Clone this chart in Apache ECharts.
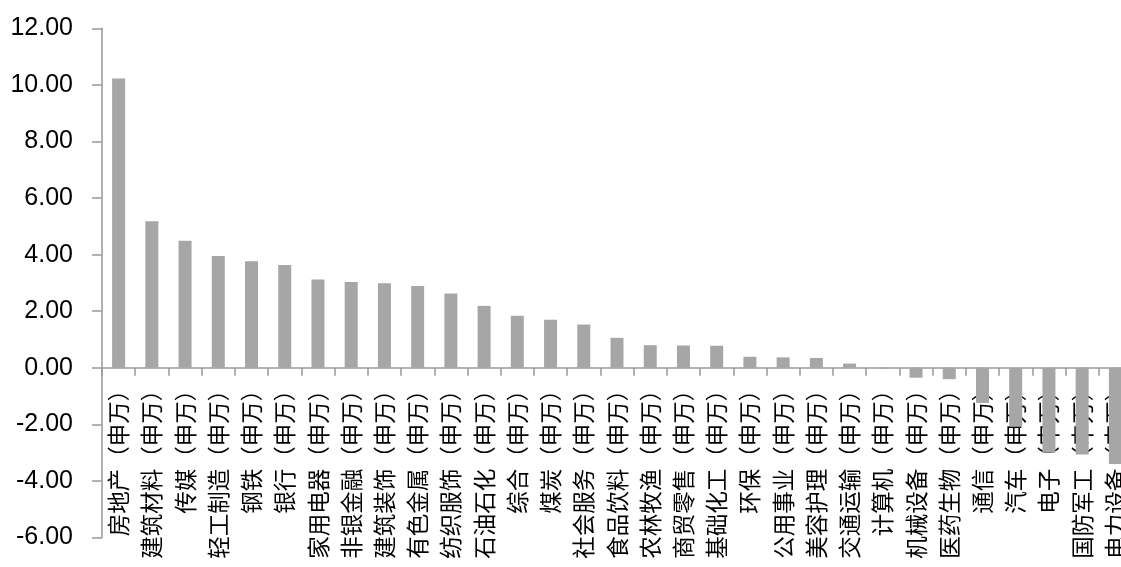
<!DOCTYPE html>
<html>
<head>
<meta charset="utf-8">
<script src="https://cdn.jsdelivr.net/npm/echarts@6/dist/echarts.min.js"></script>
<style>
html,body{margin:0;padding:0;background:#fff;}
#chart{width:1121px;height:567px;}
</style>
</head>
<body>
<div id="chart"></div>
<script>
const categories = ['房地产（申万）','建筑材料（申万）','传媒（申万）','轻工制造（申万）','钢铁（申万）','银行（申万）','家用电器（申万）','非银金融（申万）','建筑装饰（申万）','有色金属（申万）','纺织服饰（申万）','石油石化（申万）','综合（申万）','煤炭（申万）','社会服务（申万）','食品饮料（申万）','农林牧渔（申万）','商贸零售（申万）','基础化工（申万）','环保（申万）','公用事业（申万）','美容护理（申万）','交通运输（申万）','计算机（申万）','机械设备（申万）','医药生物（申万）','通信（申万）','汽车（申万）','电子（申万）','国防军工（申万）','电力设备（申万）'];
const values = [10.23,5.18,4.49,3.95,3.77,3.63,3.12,3.03,2.99,2.89,2.63,2.19,1.84,1.70,1.53,1.06,0.80,0.79,0.78,0.39,0.37,0.35,0.15,-0.02,-0.35,-0.40,-1.24,-2.08,-3.00,-3.06,-3.40];
const yMin = -6, yMax = 12, yStep = 2;

const gridTop = 28.3, gridHeight = 509.3;
const zeroOffset = -gridHeight * (0 - yMin) / (yMax - yMin);

const chart = echarts.init(document.getElementById('chart'), null, {renderer:'canvas'});
chart.setOption({
  animation:false,
  backgroundColor:'#ffffff',
  grid:{left:102, top:gridTop, width:1030, height:gridHeight, containLabel:false, outerBoundsMode:'none'},
  xAxis:{
    type:'category',
    data:categories,
    position:'bottom',
    offset:zeroOffset,
    axisLine:{onZero:false, lineStyle:{color:'#999999', width:1.5}},
    axisTick:{show:true, length:8, lineStyle:{color:'#999999', width:1.5}},
    axisLabel:{interval:0, rotate:90, margin:11, color:'#000', fontSize:22.5, fontFamily:'Noto Sans CJK SC', hideOverlap:false},
    splitLine:{show:false}
  },
  yAxis:{
    type:'value',
    min:yMin, max:yMax, interval:yStep,
    axisLine:{show:true, lineStyle:{color:'#999999', width:1.5}},
    axisTick:{show:true, inside:false, length:10, lineStyle:{color:'#999999', width:1.5}},
    axisLabel:{margin:29, color:'#000', fontSize:25, fontFamily:'Liberation Sans, Arial', formatter:v=>v.toFixed(2)},
    splitLine:{show:false}
  },
  series:[{
    type:'bar',
    data:values,
    barWidth:13,
    itemStyle:{color:'#a6a6a6'}
  }]
});
</script>
</body>
</html>
